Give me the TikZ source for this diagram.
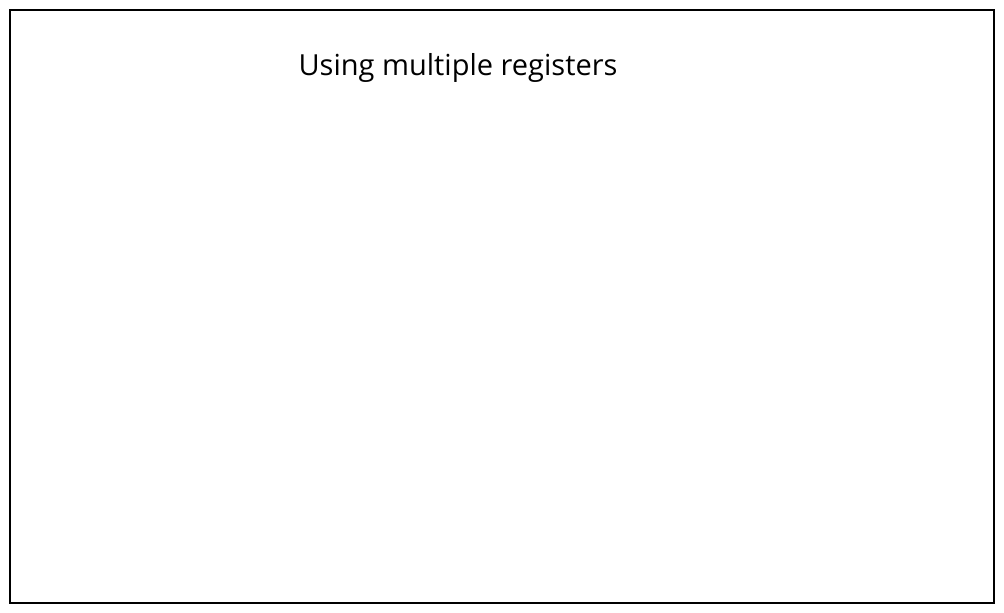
\documentclass[tikz,border=0pt]{standalone}
\usepackage{fontspec}
\setmainfont{Open Sans}
\usepackage{tikz}
\tikzset{frame/.style={line width=1.2pt, draw=black}}
\tikzset{title/.style={font=\fontsize{29}{34}\selectfont, inner sep=0pt, anchor=base}}

\begin{document}
\begin{tikzpicture}[x=1pt, y=1pt]
    \useasboundingbox(0, 0)rectangle(1004, 613);
    \coordinate(sw)at(10, 10);
    \coordinate(ne)at(994, 603);
    \draw[frame](sw)rectangle(ne);
    \node[title](heading)at(458, 537){Using multiple registers};
\end{tikzpicture}
\end{document}
